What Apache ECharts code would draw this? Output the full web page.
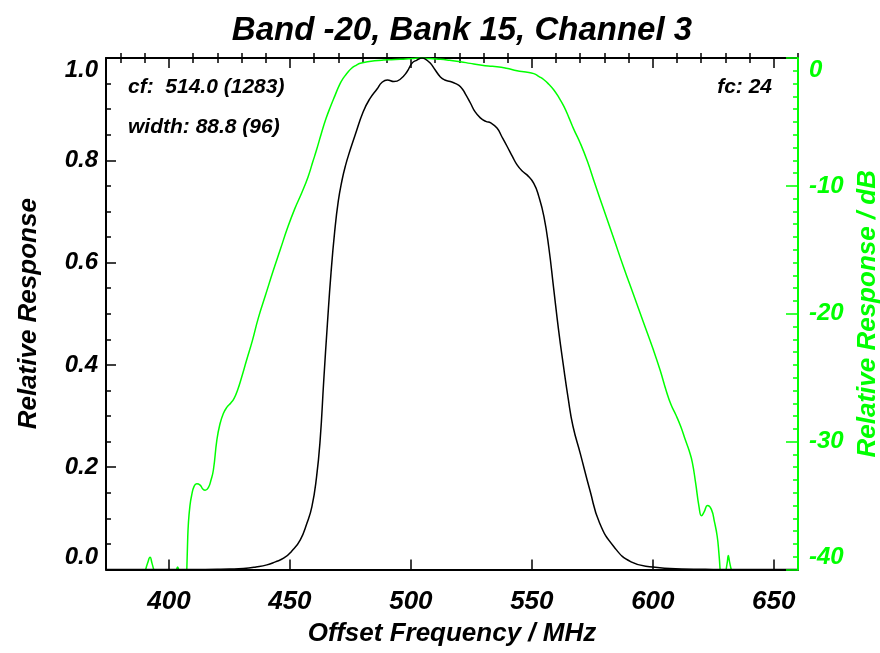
<!DOCTYPE html>
<html>
<head>
<meta charset="utf-8">
<script src="https://cdn.jsdelivr.net/npm/echarts@6/dist/echarts.min.js"></script>
<style>html,body{margin:0;padding:0;background:#fff}#c{width:880px;height:653px}</style>
</head>
<body>
<div id="c"></div>
<script>
// ---- data ----
const freqBlack = [374, 400, 410, 420, 425, 430.8, 436, 440.5, 444, 447.4, 451, 454.3, 457, 459.1, 461, 462.5, 464, 465.5, 467, 468.5, 470, 471.5, 473, 474.9, 477, 480.3, 483, 486.1, 488, 490.3, 493, 495.5, 498.4, 500.5, 502.5, 504.6, 506, 508, 510, 512.2, 514, 516.3, 518.5, 520.5, 522.5, 524.6, 526.5, 528.7, 531, 533, 535.6, 537.5, 539.8, 542, 543.9, 546, 548.1, 550.8, 552.9, 555, 557, 559, 561, 563, 565, 567, 570, 574, 578, 584, 591, 600, 612, 625, 640, 660];
const respBlack = [0, 0, 0.0001, 0.0004, 0.0008, 0.002, 0.005, 0.009, 0.015, 0.022, 0.037, 0.058, 0.09, 0.123, 0.18, 0.253, 0.37, 0.48, 0.58, 0.66, 0.72, 0.76, 0.79, 0.82, 0.85, 0.895, 0.92, 0.94, 0.952, 0.957, 0.954, 0.958, 0.973, 0.99, 0.996, 1.0, 0.998, 0.99, 0.977, 0.963, 0.957, 0.954, 0.95, 0.944, 0.93, 0.912, 0.895, 0.883, 0.876, 0.873, 0.863, 0.847, 0.827, 0.807, 0.791, 0.779, 0.771, 0.755, 0.729, 0.69, 0.63, 0.55, 0.47, 0.40, 0.335, 0.28, 0.227, 0.155, 0.091, 0.044, 0.015, 0.005, 0.001, 0.0002, 0, 0];

const freqGreen = [390.4, 391.2, 392.2, 393.0, 393.7, 398, 403.2, 403.6, 404.0, 405.5, 407.4, 407.7, 408.05, 408.7, 409.4, 410.4, 411.5, 412.9, 414, 415, 416.3, 417.4, 418.4, 419.8, 421, 422.5, 424, 425.5, 427, 428.5, 430, 432, 434.5, 437, 440, 443, 446, 449, 452, 455, 457.5, 459.5, 461, 463, 465, 467, 468.5, 470.5, 472, 473.6, 475.5, 477.5, 479.1, 482, 485, 488.7, 492, 495.6, 499, 502, 504, 506, 509, 512.2, 516, 520.5, 524.5, 528.7, 532, 535.6, 539.5, 543.9, 547.5, 550.8, 553, 555, 557, 559.1, 561.2, 563.3, 565.4, 567.4, 570.1, 573, 576, 580, 584, 588, 592, 596, 600, 603, 605.5, 607.5, 609.5, 611.5, 613.5, 615, 616.3, 617.7, 619.1, 620.1, 621.2, 622.6, 624.2, 625.5, 626.6, 627.3, 627.8, 629, 630.3, 630.8, 631.2, 631.7, 632.4];
const dbGreen = [-40, -39.5, -39.05, -39.5, -40, null, -40, -39.8, -40, null, -40, -38, -36.4, -35.0, -34.2, -33.5, -33.3, -33.4, -33.7, -33.8, -33.6, -33.0, -32.2, -29.9, -28.7, -27.8, -27.3, -27.0, -26.6, -25.9, -25.0, -23.7, -22.1, -20.3, -18.5, -16.7, -15.0, -13.3, -11.8, -10.5, -9.3, -8.1, -7.2, -5.9, -4.7, -3.7, -3.0, -2.1, -1.6, -1.2, -0.8, -0.55, -0.41, -0.3, -0.22, -0.16, -0.13, -0.1, -0.06, -0.02, 0, -0.02, -0.06, -0.1, -0.18, -0.29, -0.42, -0.55, -0.63, -0.68, -0.8, -0.99, -1.1, -1.22, -1.45, -1.7, -2.05, -2.5, -3.1, -3.8, -4.7, -5.6, -6.7, -8.1, -9.8, -12.0, -14.2, -16.4, -18.5, -20.6, -22.7, -24.4, -26.0, -27.1, -27.9, -28.8, -29.9, -30.7, -31.6, -33.25, -35.1, -35.8, -35.5, -35.0, -35.3, -36.3, -37.4, -38.7, -40, null, -40, -39.4, -38.9, -39.4, -40];

const xMajorTicks = [400, 450, 500, 550, 600, 650];
const xMinorTicks = [380, 390, 410, 420, 430, 440, 460, 470, 480, 490, 510, 520, 530, 540, 560, 570, 580, 590, 610, 620, 630, 640, 660];

const titleText = 'Band -20, Bank 15, Channel 3';
const xName = 'Offset Frequency / MHz';
const yLeftName = 'Relative Response';
const yRightName = 'Relative Response / dB';
const annotCf = 'cf:  514.0 (1283)';
const annotWidth = 'width: 88.8 (96)';
const annotFc = 'fc: 24';

// ---- chart ----
const FF = "'Liberation Sans', Arial, Helvetica, sans-serif";
const GREEN = '#00ff00';
const XMIN = 374, XMAX = 660;
const chart = echarts.init(document.getElementById('c'), null, {renderer: 'canvas'});

function txt(size, color) {
  return {fontFamily: FF, fontWeight: 'bold', fontStyle: 'italic', fontSize: size, color: color || '#000'};
}

const blackData = freqBlack.map((f, i) => [f, respBlack[i]]);
const greenData = freqGreen.map((f, i) => [f, dbGreen[i] === null ? '-' : dbGreen[i]]);

const option = {
  animation: false,
  backgroundColor: '#fff',
  title: {
    text: titleText,
    left: 457, top: 9, textAlign: 'center',
    textStyle: txt(33)
  },
  grid: {left: 106, right: 82, top: 58, bottom: 83.5, containLabel: false, outerBoundsMode: 'none'},
  xAxis: [
    {
      type: 'value', position: 'bottom', min: XMIN, max: XMAX,
      name: xName, nameLocation: 'middle', nameGap: 51,
      nameTextStyle: txt(26),
      axisLine: {show: true, lineStyle: {color: '#000', width: 2}},
      axisTick: {show: true, inside: true, length: 10, customValues: xMajorTicks, lineStyle: {color: '#000', width: 1.5}},
      axisLabel: Object.assign(txt(26), {customValues: xMajorTicks, margin: 19}),
      splitLine: {show: false}
    },
    {
      type: 'value', position: 'bottom', min: XMIN, max: XMAX,
      axisLine: {show: false},
      axisTick: {show: true, inside: true, length: 5, customValues: xMinorTicks, lineStyle: {color: '#000', width: 1.5}},
      axisLabel: {show: false},
      splitLine: {show: false}
    },
    {
      type: 'value', position: 'top', min: XMIN, max: XMAX,
      axisLine: {show: true, lineStyle: {color: '#000', width: 2}},
      axisTick: {show: true, inside: true, length: 10, customValues: xMajorTicks, lineStyle: {color: '#000', width: 1.5}},
      axisLabel: {show: false},
      splitLine: {show: false}
    },
    {
      type: 'value', position: 'top', min: XMIN, max: XMAX,
      axisLine: {show: false},
      axisTick: {show: true, inside: true, length: 5, customValues: xMinorTicks, lineStyle: {color: '#000', width: 1.5}},
      axisLabel: {show: false},
      splitLine: {show: false}
    }
  ],
  yAxis: [
    {
      type: 'value', position: 'left', min: 0, max: 1, interval: 0.2,
      name: yLeftName, nameLocation: 'middle', nameGap: 64, nameRotate: 90,
      nameTextStyle: txt(26),
      axisLine: {show: true, lineStyle: {color: '#000', width: 2}},
      axisTick: {show: true, inside: true, length: 10, lineStyle: {color: '#000', width: 1.5}},
      minorTick: {show: true, splitNumber: 4, length: 5, lineStyle: {color: '#000', width: 1.5}},
      axisLabel: Object.assign(txt(24), {margin: 8, formatter: v => v.toFixed(1), verticalAlignMinLabel: 'bottom', verticalAlignMaxLabel: 'top'}),
      splitLine: {show: false}, minorSplitLine: {show: false}
    },
    {
      type: 'value', position: 'right', min: -40, max: 0, interval: 10,
      name: yRightName, nameLocation: 'middle', nameGap: 55, nameRotate: 90,
      nameTextStyle: txt(26, GREEN),
      z: 5,
      axisLine: {show: true, lineStyle: {color: GREEN, width: 2}},
      axisTick: {show: true, inside: true, length: 12, lineStyle: {color: GREEN, width: 1.5}},
      minorTick: {show: true, splitNumber: 10, length: 5, lineStyle: {color: GREEN, width: 1.5}},
      axisLabel: Object.assign(txt(24, GREEN), {margin: 11, formatter: v => String(v), verticalAlignMinLabel: 'bottom', verticalAlignMaxLabel: 'top'}),
      splitLine: {show: false}, minorSplitLine: {show: false}
    }
  ],
  graphic: [
    {type: 'text', x: 128, y: 87, silent: true,
     style: {text: annotCf, font: 'italic bold 21px ' + FF, fill: '#000', align: 'left', verticalAlign: 'middle'}},
    {type: 'text', x: 128, y: 127, silent: true,
     style: {text: annotWidth, font: 'italic bold 21px ' + FF, fill: '#000', align: 'left', verticalAlign: 'middle'}},
    {type: 'text', x: 772, y: 87, silent: true,
     style: {text: annotFc, font: 'italic bold 21px ' + FF, fill: '#000', align: 'right', verticalAlign: 'middle'}}
  ],
  series: [
    {
      type: 'line', xAxisIndex: 0, yAxisIndex: 0, data: blackData,
      showSymbol: false, smooth: 0.5,
      lineStyle: {color: '#000', width: 1.5}, itemStyle: {color: '#000'}, z: 3
    },
    {
      type: 'line', xAxisIndex: 0, yAxisIndex: 1, data: greenData,
      showSymbol: false, smooth: 0.5, connectNulls: false,
      lineStyle: {color: GREEN, width: 1.5}, itemStyle: {color: GREEN}, z: 2
    }
  ]
};
chart.setOption(option);
</script>
</body>
</html>
